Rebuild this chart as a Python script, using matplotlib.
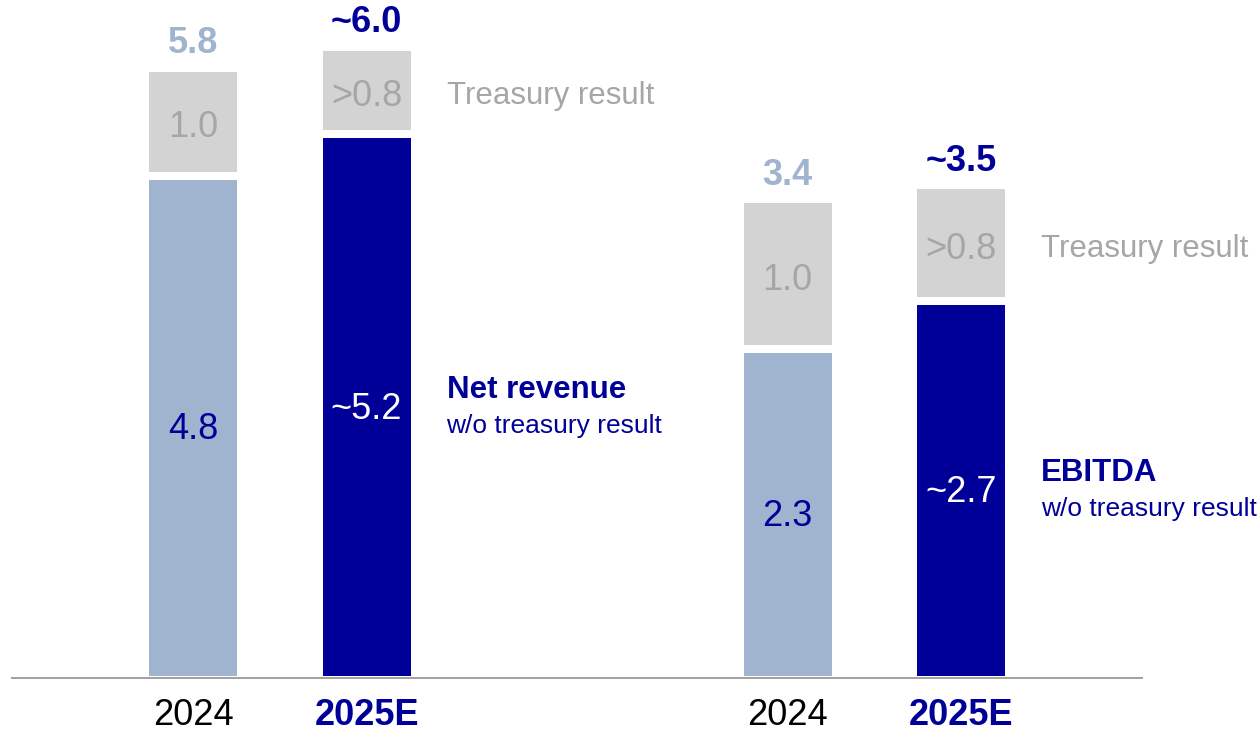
import matplotlib
matplotlib.use("Agg")
import matplotlib.pyplot as plt
from matplotlib.lines import Line2D

plt.rcParams['font.family'] = ['Liberation Sans', 'DejaVu Sans']

# ---- data ----
categories = ['2024', '2025E']
rev_core = [4.8, 5.2]
rev_treasury = [1.0, 0.8]
rev_core_labels = ['4.8', '~5.2']
rev_treasury_labels = ['1.0', '>0.8']
rev_total_labels = ['5.8', '~6.0']

ebitda_core = [2.35, 2.7]
ebitda_treasury = [1.05, 0.8]
ebitda_core_labels = ['2.3', '~2.7']
ebitda_treasury_labels = ['1.0', '>0.8']
ebitda_total_labels = ['3.4', '~3.5']

rev_title = ['Net revenue', 'w/o treasury result']
ebitda_title = ['EBITDA', 'w/o treasury result']
treasury_name = 'Treasury result'

# ---- style ----
LIGHT = '#A0B3CF'
DARK = '#000099'
GREY = '#D3D3D3'
GREY_TXT = '#A6A6A6'
W, H = 1260, 732
fig = plt.figure(figsize=(W / 100, H / 100), dpi=100)

unit_px = 173.5
bw = 88 / unit_px
FS = 26


def panel(rect_px, first_center_px, px_per_val, core, tre, core_lab, tre_lab, tot_lab, title):
    left, right = rect_px
    ax = fig.add_axes([left / W, 56 / H, (right - left) / W, 676 / H])
    ax.set_xlim((left - first_center_px) / unit_px, (right - first_center_px) / unit_px)
    ax.set_ylim(0, 676 / px_per_val)
    x = list(range(len(categories)))
    core_cols = [LIGHT, DARK]
    ax.bar(x, core, width=bw, color=core_cols, linewidth=0)
    ax.bar(x, tre, bottom=core, width=bw, color=GREY, linewidth=0)
    # white gap between segments
    ax.hlines(core, [xi - bw / 2 for xi in x], [xi + bw / 2 for xi in x],
              colors='white', linewidth=8 * 0.72, capstyle='butt')
    for i in x:
        ax.text(i, core[i] / 2, core_lab[i], ha='center', va='center_baseline',
                fontsize=FS, color=DARK if i == 0 else 'white')
        ax.text(i, core[i] + tre[i] / 2, tre_lab[i], ha='center', va='center_baseline',
                fontsize=FS, color=GREY_TXT)
        ax.annotate(tot_lab[i], (i, core[i] + tre[i]), xytext=(0, 13.5),
                    textcoords='offset points', ha='center', va='baseline',
                    fontsize=FS, fontweight='bold', color=LIGHT if i == 0 else DARK)
    xs = 1 + bw / 2 + 36 / unit_px
    ax.text(xs, core[1] + tre[1] / 2, treasury_name, ha='left', va='center_baseline',
            fontsize=22.5, color=GREY_TXT)
    ax.annotate(title[0], (xs, core[1] / 2), xytext=(0, 13.3), textcoords='offset points',
                ha='left', va='center_baseline', fontsize=22.5, fontweight='bold', color=DARK)
    ax.annotate(title[1], (xs, core[1] / 2), xytext=(0, -13.3), textcoords='offset points',
                ha='left', va='center_baseline', fontsize=19, color=DARK)
    ax.set_xticks(x)
    ax.set_xticklabels(categories)
    lbls = ax.get_xticklabels()
    lbls[0].set_color('black')
    lbls[1].set_color(DARK)
    lbls[1].set_fontweight('bold')
    ax.tick_params(axis='x', length=0, pad=16, labelsize=FS)
    ax.set_yticks([])
    for s in ax.spines.values():
        s.set_visible(False)
    ax.patch.set_alpha(0)
    return ax


panel((12, 600), 193, 104.2, rev_core, rev_treasury, rev_core_labels,
      rev_treasury_labels, rev_total_labels, rev_title)
panel((600, 1260), 787.5, 139.0, ebitda_core, ebitda_treasury, ebitda_core_labels,
      ebitda_treasury_labels, ebitda_total_labels, ebitda_title)

fig.add_artist(Line2D([12 / W, 1142 / W], [(H - 678.3) / H] * 2, color='#A0A0A0',
                      linewidth=1.4, transform=fig.transFigure))

fig.savefig('out.png', dpi=100)
